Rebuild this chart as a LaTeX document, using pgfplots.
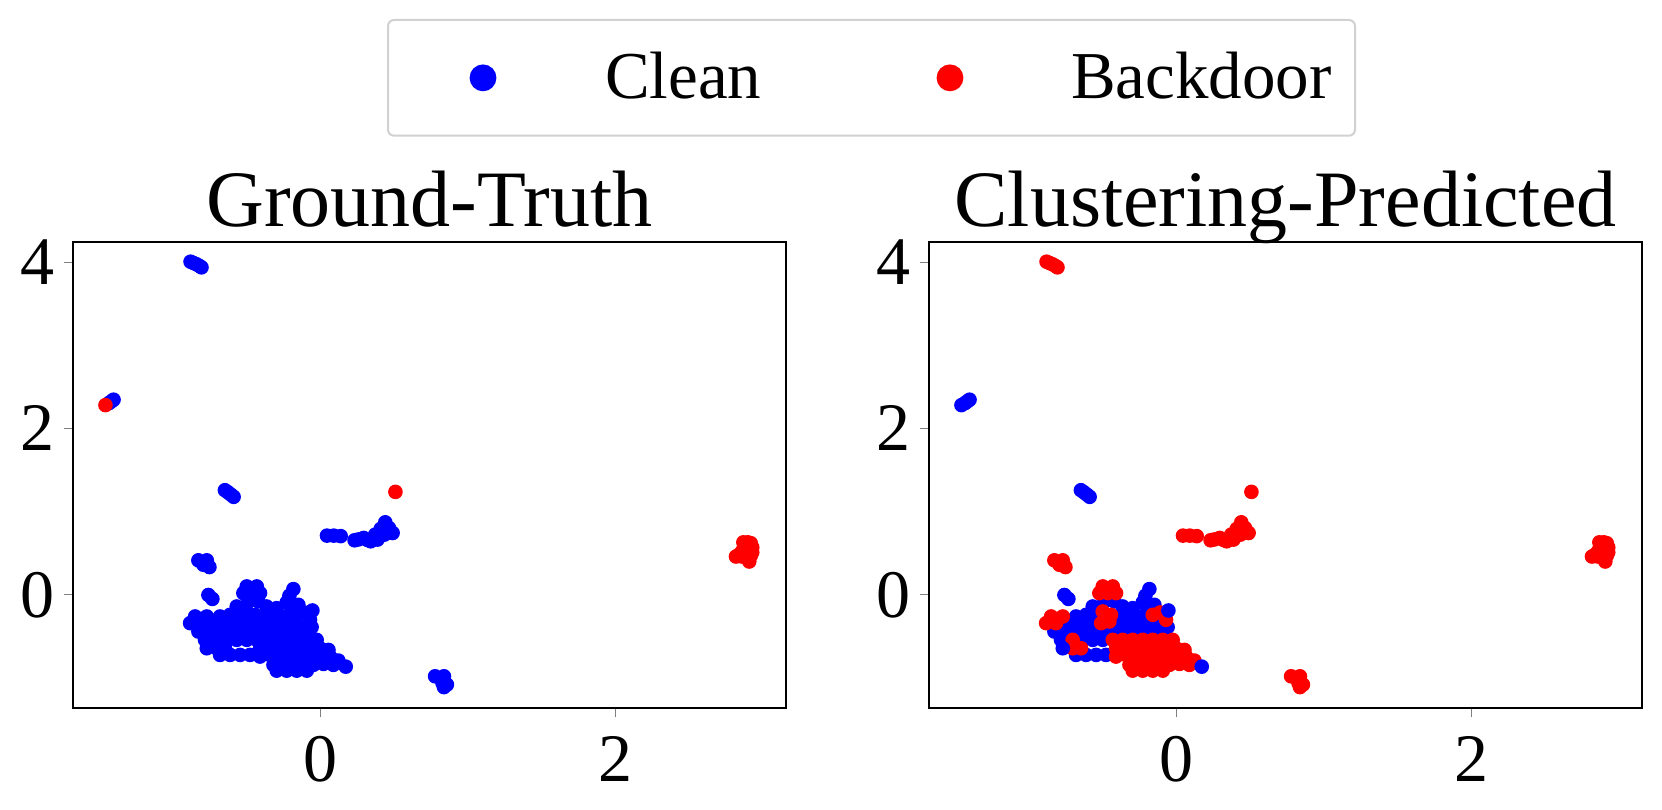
\documentclass[border=0pt]{standalone}
\usepackage{fontspec}
\setmainfont{Liberation Serif}
\usepackage{pgfplots}
\usepackage{pgfplotstable}
\pgfplotsset{compat=1.18}

% truth clean, predicted clean
\pgfplotstableread{
x y
-1.400 2.345
-1.415 2.325
-1.430 2.305
-0.645 1.257
-0.625 1.232
-0.605 1.205
-0.586 1.177
-0.757 -0.003
-0.730 -0.050
-0.486 -0.080
-0.418 -0.080
-0.181 0.068
-0.208 -0.012
-0.226 -0.092
-0.185 -0.161
-0.147 -0.121
-0.565 -0.141
-0.362 -0.141
-0.294 -0.161
-0.678 -0.261
-0.610 -0.241
-0.542 -0.261
-0.373 -0.261
-0.305 -0.261
-0.237 -0.261
-0.723 -0.341
-0.655 -0.341
-0.588 -0.341
-0.384 -0.341
-0.316 -0.341
-0.249 -0.341
-0.181 -0.341
-0.113 -0.381
-0.057 -0.389
-0.825 -0.442
-0.757 -0.442
-0.689 -0.442
-0.621 -0.442
-0.554 -0.442
-0.486 -0.442
-0.418 -0.442
-0.350 -0.442
-0.282 -0.442
-0.215 -0.442
-0.147 -0.442
-0.079 -0.462
-0.780 -0.542
-0.633 -0.542
-0.565 -0.542
-0.497 -0.542
-0.678 -0.723
-0.610 -0.723
-0.542 -0.723
-0.475 -0.723
}\tCpC

% truth clean, predicted clean, drawn on top
\pgfplotstableread{
x y
-0.052 -0.189
-0.768 -0.643
0.174 -0.864
}\tCpCtop

% truth clean, predicted backdoor
\pgfplotstableread{
x y
-0.878 4.004
-0.860 3.990
-0.840 3.975
-0.820 3.955
-0.804 3.936
0.047 0.711
0.093 0.711
0.140 0.705
0.234 0.655
0.260 0.665
0.296 0.683
0.320 0.660
0.343 0.643
0.374 0.723
0.411 0.791
0.442 0.871
0.450 0.760
0.467 0.803
0.492 0.743
0.436 0.723
0.389 0.663
-0.825 0.414
-0.768 0.414
-0.750 0.333
-0.791 0.361
0.78 -0.98
0.84 -0.98
0.83 -1.06
0.86 -1.08
0.84 -1.11
-0.497 0.100
-0.429 0.100
-0.520 0.020
-0.463 0.020
-0.407 0.020
-0.158 -0.241
-0.108 -0.213
-0.068 -0.301
-0.497 -0.201
-0.441 -0.241
-0.508 -0.341
-0.452 -0.321
-0.847 -0.261
-0.768 -0.261
-0.881 -0.341
-0.814 -0.341
-0.701 -0.542
-0.429 -0.542
-0.362 -0.542
-0.294 -0.542
-0.226 -0.542
-0.158 -0.542
-0.090 -0.542
-0.023 -0.542
-0.701 -0.643
-0.644 -0.643
-0.407 -0.643
-0.339 -0.643
-0.271 -0.643
-0.203 -0.643
-0.136 -0.643
-0.068 -0.643
0.000 -0.643
0.057 -0.663
-0.407 -0.743
-0.339 -0.723
-0.271 -0.723
-0.203 -0.723
-0.136 -0.723
-0.068 -0.723
0.000 -0.723
0.068 -0.743
0.124 -0.791
-0.316 -0.843
-0.249 -0.843
-0.181 -0.843
-0.113 -0.843
-0.045 -0.843
0.023 -0.831
0.090 -0.843
-0.294 -0.912
-0.226 -0.912
-0.158 -0.912
-0.090 -0.912
}\tCpB

% truth backdoor, predicted clean
\pgfplotstableread{
x y
-1.455 2.280
}\tBpC

% truth backdoor, predicted backdoor
\pgfplotstableread{
x y
0.511 1.237
2.87 0.63
2.90 0.63
2.92 0.62
2.93 0.57
2.91 0.54
2.88 0.56
2.86 0.52
2.84 0.48
2.82 0.46
2.86 0.46
2.90 0.44
2.91 0.40
2.92 0.47
2.93 0.51
}\tBpB

\pgfplotsset{
  scat/.style={
    scale only axis, width=178.25pt, height=116.5pt,
    xmin=-1.675, xmax=3.159, ymin=-1.361, ymax=4.241,
    xtick={0,2}, ytick={0,2,4},
    tick align=outside, tick pos=left,
    major tick length=2.35pt,
    line width=0.45pt,
    ticklabel style={font=\fontsize{17}{20}\selectfont, inner sep=0pt},
    xticklabel style={yshift=-4.6pt},
    yticklabel style={xshift=-2.15pt},
    /pgf/number format/assume math mode=true,
    title style={font=\fontsize{20}{24}\selectfont, inner sep=0pt,
      anchor=base, at={(0.5,1)}, yshift=-2.25pt},
  },
  pts/.style={only marks, mark=*, mark size=1.6pt, mark options={draw=none}},
}

\begin{document}
\begin{tikzpicture}
\path[use as bounding box] (-18.25pt,-25.5pt) rectangle (397.25pt,177pt);

\begin{axis}[scat, at={(0pt,0pt)}, anchor=south west,
  title={Ground-Truth},
  legend columns=2, legend cell align=left,
  legend style={at={(0.4404,1.4785)}, anchor=north west,
    draw=black!18, line width=0.5pt, rounded corners=1.5pt,
    inner xsep=0pt, inner ysep=7.9pt,
    font=\fontsize{16.75}{20}\selectfont, nodes={inner sep=0pt}},
]
\addplot[pts, blue,
  legend image code/.code={\path[draw=none,fill=none] (0pt,-5pt) rectangle (54.25pt,5pt);
    \fill[blue] (23.75pt,0pt) circle (3.1pt);}] table {\tCpC};
\addlegendentry{\makebox[38.75pt][l]{Clean}}
\addplot[pts, blue, forget plot] table {\tCpCtop};
\addplot[pts, blue, forget plot] table {\tCpB};
\addplot[pts, red,
  legend image code/.code={\path[draw=none,fill=none] (0pt,-5pt) rectangle (77.75pt,5pt);
    \fill[red] (47.5pt,0pt) circle (3.1pt);}] table {\tBpC};
\addlegendentry{\makebox[71pt][l]{Backdoor}}
\addplot[pts, red, forget plot] table {\tBpB};
\end{axis}

\begin{axis}[scat, at={(214pt,0pt)}, anchor=south west,
  title={Clustering-Predicted}]
\addplot[pts, blue] table {\tCpC};
\addplot[pts, blue] table {\tBpC};
\addplot[pts, red] table {\tCpB};
\addplot[pts, red] table {\tBpB};
\addplot[pts, blue] table {\tCpCtop};
\end{axis}
\end{tikzpicture}
\end{document}
